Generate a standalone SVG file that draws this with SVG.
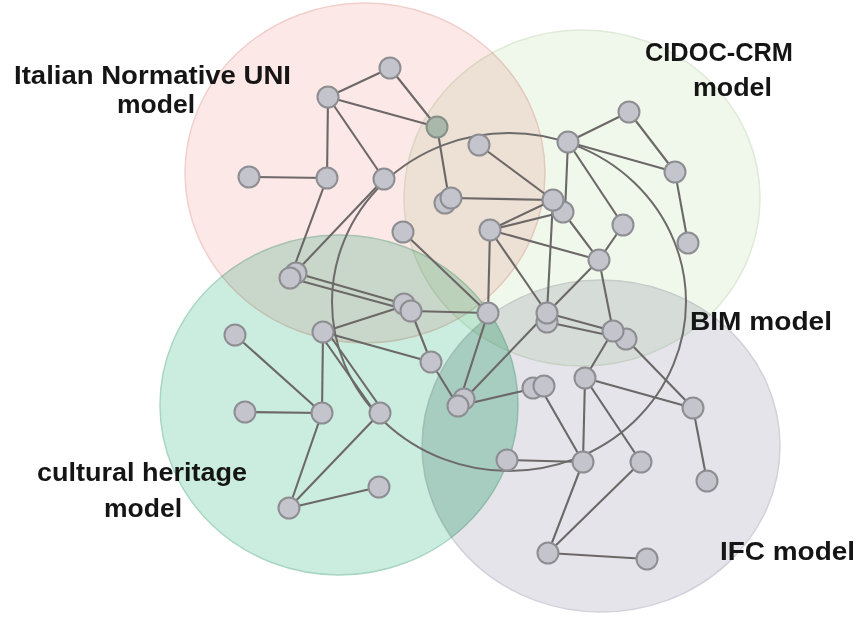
<svg xmlns="http://www.w3.org/2000/svg" width="858" height="617" viewBox="0 0 858 617">
<style>
.reg{mix-blend-mode:multiply;stroke-width:1.5}
.bim{fill:none;stroke:#6e6a6a;stroke-width:2}
.e{stroke:#6d6868;stroke-width:2.1;fill:none}
.n{fill:#c3c4cc;stroke:#8d8d92;stroke-width:2}
.ng{fill:#a9b8a8;stroke:#86908a;stroke-width:2}
.lbl{font-family:"Liberation Sans",Arial,sans-serif;font-weight:bold;font-size:25px;fill:#151515}
</style>
<defs>
<clipPath id="tealclip"><ellipse cx="339" cy="405" rx="179" ry="170"/></clipPath>
</defs>
<rect width="858" height="617" fill="#ffffff"/>
<g id="regions">
<ellipse class="reg" cx="365" cy="173" rx="180" ry="170" fill="#fce8e6" stroke="#f2cfcb"/>
<ellipse class="reg" cx="582" cy="198" rx="178" ry="168" fill="#f0f8ec" stroke="#dfead8"/>
<ellipse class="reg" cx="339" cy="405" rx="179" ry="170" fill="#cbeddf" stroke="#a9d6c2"/>
<ellipse class="reg" cx="601" cy="446" rx="179" ry="166" fill="#e4e4ea" stroke="#d2d2da"/>
<ellipse class="reg" cx="601" cy="446" rx="179" ry="166" fill="#ebf7f0" clip-path="url(#tealclip)" stroke="none"/>
</g>
<g id="labels">
<g id="label-uni"><text class="lbl" x="14" y="84" textLength="277" lengthAdjust="spacingAndGlyphs">Italian Normative UNI</text><text class="lbl" x="117" y="113" textLength="78" lengthAdjust="spacingAndGlyphs">model</text></g>
<g id="label-cidoc"><text class="lbl" x="645" y="61" textLength="148" lengthAdjust="spacingAndGlyphs">CIDOC-CRM</text><text class="lbl" x="693" y="96" textLength="79" lengthAdjust="spacingAndGlyphs">model</text></g>
<g id="label-bim"><text class="lbl" x="690" y="330" textLength="142" lengthAdjust="spacingAndGlyphs">BIM model</text></g>
<g id="label-ch"><text class="lbl" x="37" y="481" textLength="210" lengthAdjust="spacingAndGlyphs">cultural heritage</text><text class="lbl" x="104" y="517" textLength="78" lengthAdjust="spacingAndGlyphs">model</text></g>
<g id="label-ifc"><text class="lbl" x="720" y="560" textLength="135" lengthAdjust="spacingAndGlyphs">IFC model</text></g>
</g>
<g id="bim-boundary"><ellipse class="bim" cx="509" cy="302" rx="177" ry="169"/></g>
<g id="connectors" class="e">
<line x1="390" y1="68" x2="328" y2="97"/>
<line x1="390" y1="68" x2="437" y2="127"/>
<line x1="328" y1="97" x2="437" y2="127"/>
<line x1="328" y1="97" x2="327" y2="178"/>
<line x1="328" y1="97" x2="384" y2="179"/>
<line x1="249" y1="177" x2="327" y2="178"/>
<line x1="327" y1="178" x2="290" y2="278"/>
<line x1="384" y1="179" x2="290" y2="278"/>
<line x1="437" y1="127" x2="449" y2="199"/>
<line x1="479" y1="145" x2="553" y2="200"/>
<line x1="451" y1="198" x2="553" y2="200"/>
<line x1="403" y1="232" x2="488" y2="313"/>
<line x1="296" y1="273" x2="404" y2="304"/>
<line x1="290" y1="278" x2="411" y2="311"/>
<line x1="568" y1="142" x2="629" y2="112"/>
<line x1="629" y1="112" x2="675" y2="172"/>
<line x1="568" y1="142" x2="675" y2="172"/>
<line x1="675" y1="172" x2="688" y2="243"/>
<line x1="568" y1="142" x2="623" y2="225"/>
<line x1="568" y1="142" x2="565" y2="212"/>
<line x1="623" y1="225" x2="599" y2="260"/>
<line x1="563" y1="212" x2="599" y2="260"/>
<line x1="490" y1="230" x2="553" y2="200"/>
<line x1="490" y1="230" x2="563" y2="212"/>
<line x1="490" y1="230" x2="599" y2="260"/>
<line x1="490" y1="230" x2="488" y2="313"/>
<line x1="490" y1="230" x2="547" y2="313"/>
<line x1="553" y1="200" x2="547" y2="313"/>
<line x1="599" y1="260" x2="547" y2="313"/>
<line x1="599" y1="260" x2="613" y2="331"/>
<line x1="411" y1="311" x2="488" y2="313"/>
<line x1="323" y1="332" x2="404" y2="306"/>
<line x1="323" y1="332" x2="431" y2="362"/>
<line x1="411" y1="311" x2="431" y2="362"/>
<line x1="431" y1="362" x2="458" y2="406"/>
<line x1="488" y1="313" x2="458" y2="406"/>
<line x1="547" y1="313" x2="458" y2="406"/>
<line x1="458" y1="406" x2="540" y2="387"/>
<line x1="547" y1="313" x2="613" y2="331"/>
<line x1="547" y1="322" x2="626" y2="339"/>
<line x1="613" y1="331" x2="585" y2="378"/>
<line x1="626" y1="339" x2="693" y2="408"/>
<line x1="585" y1="378" x2="693" y2="408"/>
<line x1="585" y1="378" x2="583" y2="462"/>
<line x1="585" y1="378" x2="641" y2="462"/>
<line x1="540" y1="387" x2="583" y2="462"/>
<line x1="693" y1="408" x2="707" y2="481"/>
<line x1="323" y1="332" x2="322" y2="413"/>
<line x1="235" y1="335" x2="322" y2="413"/>
<line x1="245" y1="412" x2="322" y2="413"/>
<line x1="320" y1="334" x2="377" y2="415"/>
<line x1="326" y1="330" x2="383" y2="411"/>
<line x1="322" y1="413" x2="289" y2="508"/>
<line x1="380" y1="413" x2="289" y2="508"/>
<line x1="289" y1="508" x2="379" y2="487"/>
<line x1="507" y1="460" x2="583" y2="462"/>
<line x1="583" y1="462" x2="548" y2="553"/>
<line x1="641" y1="462" x2="548" y2="553"/>
<line x1="548" y1="553" x2="647" y2="559"/>
</g>
<g id="nodes">
<g id="n-a"><circle class="n" cx="390" cy="68" r="10.5"/></g>
<g id="n-b"><circle class="n" cx="328" cy="97" r="10.5"/></g>
<g id="n-c"><circle class="ng" cx="437" cy="127" r="10.5"/></g>
<g id="n-d"><circle class="n" cx="249" cy="177" r="10.5"/></g>
<g id="n-e"><circle class="n" cx="327" cy="178" r="10.5"/></g>
<g id="n-f"><circle class="n" cx="384" cy="179" r="10.5"/></g>
<g id="n-g"><circle class="n" cx="479" cy="145" r="10.5"/></g>
<g id="n-h"><circle class="n" cx="445" cy="203" r="10.5"/><circle class="n" cx="451" cy="198" r="10.5"/></g>
<g id="n-i"><circle class="n" cx="403" cy="232" r="10.5"/></g>
<g id="n-k"><circle class="n" cx="296" cy="273" r="10.5"/><circle class="n" cx="290" cy="278" r="10.5"/></g>
<g id="n-l"><circle class="n" cx="568" cy="142" r="10.5"/></g>
<g id="n-m"><circle class="n" cx="629" cy="112" r="10.5"/></g>
<g id="n-n"><circle class="n" cx="675" cy="172" r="10.5"/></g>
<g id="n-o"><circle class="n" cx="688" cy="243" r="10.5"/></g>
<g id="n-q"><circle class="n" cx="563" cy="212" r="10.5"/></g>
<g id="n-p"><circle class="n" cx="553" cy="200" r="10.5"/></g>
<g id="n-r"><circle class="n" cx="490" cy="230" r="10.5"/></g>
<g id="n-s"><circle class="n" cx="623" cy="225" r="10.5"/></g>
<g id="n-t"><circle class="n" cx="599" cy="260" r="10.5"/></g>
<g id="n-v"><circle class="n" cx="488" cy="313" r="10.5"/></g>
<g id="n-w"><circle class="n" cx="547" cy="322" r="10.5"/><circle class="n" cx="547" cy="313" r="10.5"/></g>
<g id="n-x"><circle class="n" cx="404" cy="304" r="10.5"/><circle class="n" cx="411" cy="311" r="10.5"/></g>
<g id="n-y"><circle class="n" cx="323" cy="332" r="10.5"/></g>
<g id="n-z"><circle class="n" cx="235" cy="335" r="10.5"/></g>
<g id="n-aa"><circle class="n" cx="431" cy="362" r="10.5"/></g>
<g id="n-bb"><circle class="n" cx="464" cy="399" r="10.5"/><circle class="n" cx="458" cy="406" r="10.5"/></g>
<g id="n-hh"><circle class="n" cx="533" cy="388" r="10.5"/><circle class="n" cx="544" cy="386" r="10.5"/></g>
<g id="n-ff"><circle class="n" cx="626" cy="339" r="10.5"/><circle class="n" cx="613" cy="331" r="10.5"/></g>
<g id="n-gg"><circle class="n" cx="585" cy="378" r="10.5"/></g>
<g id="n-ii"><circle class="n" cx="693" cy="408" r="10.5"/></g>
<g id="n-cc"><circle class="n" cx="245" cy="412" r="10.5"/></g>
<g id="n-dd"><circle class="n" cx="322" cy="413" r="10.5"/></g>
<g id="n-ee"><circle class="n" cx="380" cy="413" r="10.5"/></g>
<g id="n-pp"><circle class="n" cx="289" cy="508" r="10.5"/></g>
<g id="n-qq"><circle class="n" cx="379" cy="487" r="10.5"/></g>
<g id="n-jj"><circle class="n" cx="507" cy="460" r="10.5"/></g>
<g id="n-kk"><circle class="n" cx="583" cy="462" r="10.5"/></g>
<g id="n-ll"><circle class="n" cx="641" cy="462" r="10.5"/></g>
<g id="n-mm"><circle class="n" cx="707" cy="481" r="10.5"/></g>
<g id="n-nn"><circle class="n" cx="548" cy="553" r="10.5"/></g>
<g id="n-oo"><circle class="n" cx="647" cy="559" r="10.5"/></g>
</g>
</svg>
